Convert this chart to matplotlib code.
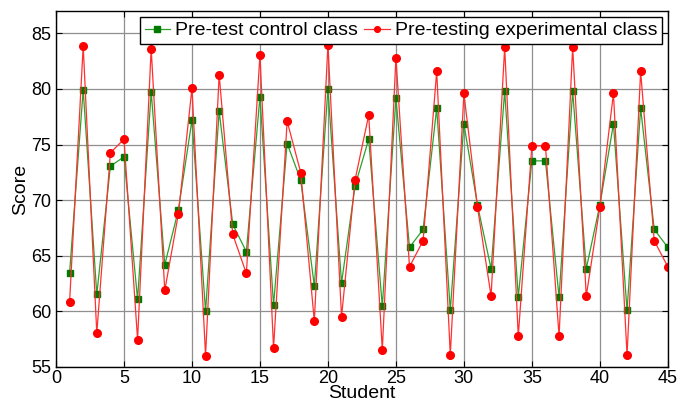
import numpy as np
import matplotlib.pyplot as plt

plt.rcParams['font.family'] = ['Liberation Sans', 'DejaVu Sans']

students = np.arange(1, 46)
control = [63.47, 79.93, 61.52, 73.05, 73.89, 61.07, 79.74, 64.19, 69.11, 77.19,
           60.00, 78.00, 67.82, 65.36, 79.29, 60.56, 75.09, 71.79, 62.27, 80.00,
           62.54, 71.31, 75.48, 60.44, 79.17, 65.75, 67.37, 78.27, 60.08, 76.86,
           69.56, 63.83, 79.80, 61.28, 73.53, 73.53, 61.28, 79.80, 63.83, 69.56,
           76.86, 60.08, 78.27, 67.37, 65.75]
experimental = [60.86, 83.86, 58.03, 74.25, 75.48, 57.46, 83.62, 61.88, 68.75, 80.05,
                56.02, 81.28, 66.92, 63.41, 83.05, 56.71, 77.10, 72.48, 59.11, 83.98,
                59.50, 71.85, 77.64, 56.53, 82.81, 64.01, 66.35, 81.58, 56.08, 79.59,
                69.38, 61.37, 83.74, 57.76, 74.88, 74.88, 57.76, 83.74, 61.37, 69.38,
                79.59, 56.08, 81.58, 66.35, 64.01]

fig = plt.figure(figsize=(6.78, 4.08), dpi=100)
ax = fig.add_axes([0.0826, 0.1005, 0.9024, 0.8725])

ax.plot(students, control, color='#2ca02c', linewidth=0.9, marker='s',
        markersize=5, markerfacecolor='#007a00', markeredgecolor='#007a00',
        label='Pre-test control class')
ax.plot(students, experimental, color='#ff3030', linewidth=0.9, marker='o',
        markersize=5.5, markerfacecolor='#ff0000', markeredgecolor='#ff0000',
        label='Pre-testing experimental class')

ax.set_xlim(0, 45)
ax.set_ylim(55, 87)
ax.set_xticks(np.arange(0, 46, 5))
ax.set_yticks(np.arange(55, 86, 5))
ax.grid(True, color='#8f8f8f', linewidth=0.9)
ax.tick_params(direction='in', top=True, right=True, labelsize=13, length=4)
ax.tick_params(axis='x', pad=2)
for s in ax.spines.values():
    s.set_linewidth(1.0)

ax.set_xlabel('Student', fontsize=14, labelpad=-1)
ax.set_ylabel('Score', fontsize=14, labelpad=1)

leg = ax.legend(loc='upper right', ncol=2, fontsize=14, frameon=True,
                fancybox=False, edgecolor='black', framealpha=1,
                borderaxespad=0.3, handlelength=1.3, handletextpad=0.25,
                columnspacing=0.35, borderpad=0.25, markerscale=0.75)
leg.get_frame().set_linewidth(1.0)

plt.savefig('out.png')
